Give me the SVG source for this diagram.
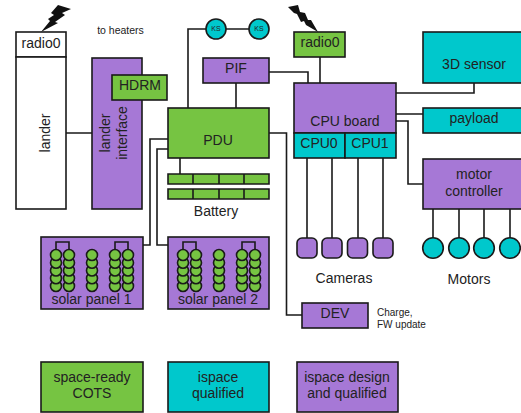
<svg xmlns="http://www.w3.org/2000/svg" width="521" height="413" viewBox="0 0 521 413">
<defs>
<style>
.b{stroke:#1a1a1a;stroke-width:1.6}
.g{fill:#76c442}.p{fill:#a678d6}.c{fill:#00c8cc}.w{fill:#fff}
text{font-family:"Liberation Sans",Arial,sans-serif;font-size:14px;fill:#222;text-anchor:middle}
.s{font-size:10px}
.h{font-size:10.500px}
.k{font-size:7px}
.l{fill:none;stroke:#1a1a1a;stroke-width:1.6}
</style>
<g id="cell"><circle r="5.500" class="g b"/></g>
<g id="col"><use href="#cell" y="31"/><use href="#cell" y="23.250"/><use href="#cell" y="15.500"/><use href="#cell" y="7.750"/><use href="#cell"/></g>
<g id="cells">
<path class="l" d="M15 0V-13H28V0M74 0V-13H87V0"/>
<use href="#col" x="15"/><use href="#col" x="28"/><use href="#col" x="51"/><use href="#col" x="74"/><use href="#col" x="87"/>
</g>
</defs>
<rect width="521" height="413" fill="#fff"/>
<g id="connectors">
<path class="l" d="M66 133H92M188 108V29H206M226 29H249M236 83V108M180 158V174M269 72H308V83M320 57V83M396 93H474V83M396 114H423M396 121H408V184H423M269 133H286.500V315H302M168 139H150V245H143M168 149H157V245H168M307 158V238M332 158V238M358 158V238M383 158V238M433 209V238M459 209V238M484 209V238M510 209V238"/>
</g>
<g id="radio0-lander"><rect class="w b" x="16" y="32" width="50" height="25"/><text x="41" y="48">radio0</text><path fill="#111" d="M41 32L50 21L48 19L54 15L51 13L58 5L71 9L62 13L65 15L55 22L58 23Z"/></g>
<g id="lander"><rect class="w b" x="16" y="57" width="50" height="152"/><text transform="translate(50 133) rotate(-90)">lander</text></g>
<g id="lander-interface"><rect class="p b" x="92" y="58" width="50" height="151"/><text transform="translate(110 133) rotate(-90)">lander</text><text transform="translate(127 133) rotate(-90)">interface</text></g>
<g id="hdrm"><rect class="g b" x="112" y="75" width="55" height="25"/><text x="140" y="90">HDRM</text></g>
<g id="pdu"><rect class="g b" x="168" y="108" width="101" height="50"/><text x="218" y="145">PDU</text></g>
<g id="pif"><rect class="p b" x="203" y="58" width="66" height="25"/><text x="236" y="73">PIF</text></g>
<g id="ks1"><circle class="c b" cx="216" cy="29" r="10"/><text class="k" x="216" y="31">KS</text></g>
<g id="ks2"><circle class="c b" cx="259" cy="29" r="10"/><text class="k" x="259" y="31">KS</text></g>
<g id="battery"><path class="g b" d="M168 174H269V184H168ZM168 189H269V199H168ZM193 174V184M219 174V184M244 174V184M193 189V199M219 189V199M244 189V199"/><text x="216" y="216">Battery</text></g>
<g id="radio0"><rect class="g b" x="294" y="32" width="51" height="25"/><text x="320" y="47">radio0</text><path fill="#111" d="M318 32L306 25L304 21L301 22L297 14L294 13L288 7L298 5L300 12L305 13L308 20L311 20Z"/></g>
<g id="cpu-board"><rect class="p b" x="294" y="83" width="102" height="50"/><text x="345" y="126">CPU board</text></g>
<g id="cpu0"><rect class="c b" x="294" y="133" width="51" height="25"/><text x="319" y="148">CPU0</text></g>
<g id="cpu1"><rect class="c b" x="345" y="133" width="51" height="25"/><text x="370" y="148">CPU1</text></g>
<g id="sensor"><rect class="c b" x="423" y="32" width="100" height="51"/><text x="474" y="69">3D sensor</text></g>
<g id="payload"><rect class="c b" x="423" y="108" width="100" height="25"/><text x="474" y="123">payload</text></g>
<g id="motor-controller"><rect class="p b" x="423" y="159" width="100" height="50"/><text x="474" y="179">motor</text><text x="474" y="196">controller</text></g>
<g id="cameras"><rect class="p b" x="297" y="238" width="20" height="20" rx="5"/><rect class="p b" x="322" y="238" width="20" height="20" rx="5"/><rect class="p b" x="347.500" y="238" width="20" height="20" rx="5"/><rect class="p b" x="373" y="238" width="20" height="20" rx="5"/><text x="344" y="283">Cameras</text></g>
<g id="motors"><circle class="c b" cx="433" cy="248" r="10.300"/><circle class="c b" cx="459" cy="248" r="10.300"/><circle class="c b" cx="484" cy="248" r="10.300"/><circle class="c b" cx="510" cy="248" r="10.300"/><text x="469" y="284">Motors</text></g>
<g id="dev"><rect class="p b" x="302" y="303" width="66" height="25"/><text x="335" y="318">DEV</text></g>
<g id="solar1"><rect class="p b" x="41" y="237" width="102" height="72"/><use href="#cells" x="41" y="255"/><text x="91.500" y="304">solar panel 1</text></g>
<g id="solar2"><rect class="p b" x="168" y="237" width="101" height="72"/><use href="#cells" x="168" y="255"/><text x="218" y="304">solar panel 2</text></g>
<text x="120.500" y="34" class="h">to heaters</text>
<text x="377" y="316" class="s" style="text-anchor:start">Charge,</text>
<text x="377" y="327.500" class="s" style="text-anchor:start">FW update</text>
<g id="legend-cots"><rect class="g b" x="41" y="362" width="102" height="50"/><text x="92" y="382">space-ready</text><text x="92" y="398">COTS</text></g>
<g id="legend-ispace"><rect class="c b" x="168" y="362" width="101" height="50"/><text x="218" y="382">ispace</text><text x="218" y="398">qualified</text></g>
<g id="legend-design"><rect class="p b" x="297" y="362" width="101" height="50"/><text x="347" y="382">ispace design</text><text x="347" y="398">and qualified</text></g>
</svg>
